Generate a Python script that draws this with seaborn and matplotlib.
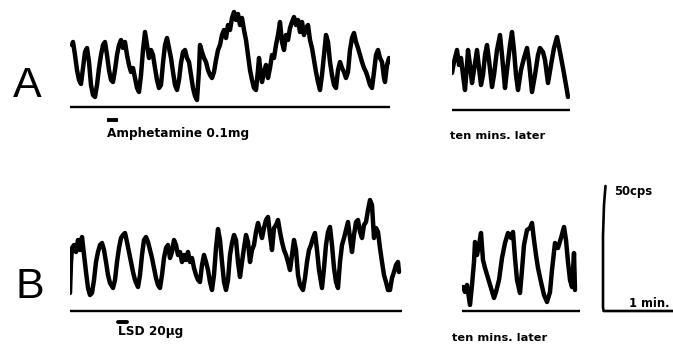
import matplotlib
matplotlib.use("Agg")
import matplotlib.pyplot as plt
import pandas as pd
import seaborn as sns

# ---------------- data (time in s, firing rate in cps) ----------------
a_main_t = [2, 3, 5, 7, 9, 11, 13, 15, 17, 19, 21, 23, 25, 27, 29, 31, 33, 35, 37, 39,
            41, 43, 45, 47, 49, 51, 53, 55, 57, 59, 61, 63, 65, 67, 69, 71, 73, 75, 77, 79,
            81, 83, 85, 87, 89, 91, 93, 95, 97, 99, 101, 103, 105, 107, 109, 111, 113, 115, 117, 119,
            121, 123, 125, 127, 129, 130, 132, 134, 136, 138, 140, 142, 144, 146, 148, 150, 152, 154, 156, 158,
            160, 162, 164, 166, 168, 170, 172, 174, 176, 178, 180, 182, 184, 186, 188, 189, 191, 192, 194, 196,
            198, 200, 202, 204, 206, 208, 210, 212, 214, 216, 218, 220, 222, 224, 226, 228, 230, 232, 234, 236,
            238, 240, 242, 244, 246, 248, 250, 252, 254, 256, 258, 260, 262, 264, 266, 268, 270, 272, 274, 276,
            278, 280, 282, 284, 286, 288, 290, 292, 294, 296, 298, 300, 302, 304, 306, 308, 310, 312, 314, 315,
            317, 319, 320]
a_main_rate = [24.8, 26, 20.8, 14.8, 10.8, 9.2, 15.6, 22, 23.6, 18, 8.8, 4.8, 4, 8.8, 15.6, 20.8, 24.8, 26, 20.8, 14.8,
               10.8, 10, 14.8, 20.8, 24.8, 26.8, 23.6, 26, 20.8, 16.8, 14, 15.6, 11.6, 7.6, 6, 12.8, 22.8, 30, 24.8, 19.6,
               22.8, 20.8, 15.6, 10.8, 7.6, 8.8, 17.6, 24.8, 27.6, 23.6, 19.6, 14, 8.8, 6.8, 10.8, 17.6, 22, 22.8, 19.6, 18,
               12.8, 7.6, 4.4, 2.8, 14.8, 24.8, 22, 19.6, 18, 14.8, 12.8, 11.6, 14, 18.8, 22.8, 24.8, 28.8, 30.8, 27.6, 32.8,
               30.8, 35.6, 38, 34.8, 37.2, 32.8, 35.6, 30.8, 26.8, 20.8, 14.8, 10.8, 7.6, 6.8, 14.8, 19.6, 12.8, 10, 14, 16.8,
               11.6, 15.6, 20.8, 19.6, 24.8, 28.8, 34, 26, 22.8, 28.8, 26.8, 31.6, 34, 36, 32.8, 34.8, 30, 34, 28.8, 31.6,
               32.8, 26.8, 23.6, 18.8, 14, 10, 6.8, 12.8, 20.8, 28.8, 26, 18, 12.8, 8.8, 7.6, 14.8, 18, 15.6, 14, 11.6,
               14, 22.8, 27.6, 29.6, 26, 23.6, 20.8, 18, 15.6, 14, 11.6, 8.8, 7.6, 14, 20.8, 22.8, 19.6, 18, 11.6, 10,
               16.8, 19.6, 18]

a_later_t = [0, 2, 5, 7, 9, 11, 13, 15, 16, 18, 20, 22, 25, 27, 29, 31, 33, 35, 37, 40,
             42, 45, 48, 50, 53, 55, 58, 60, 62, 64, 66, 69, 72, 75, 77, 80, 83, 86, 88, 91,
             93, 96, 99, 102, 105, 108, 111, 114, 116]
a_later_rate = [14.8, 19.2, 24, 18, 20.8, 14, 8, 18, 24, 18, 10.8, 16, 24, 16.8, 10, 14, 22, 26, 20, 9.2,
                14, 24, 30, 22, 8.8, 16, 26, 31.2, 24, 14, 8, 16, 20.8, 24.8, 19.2, 7.2, 14, 22, 24.8, 23.2,
                20, 10.8, 18, 24.8, 29.2, 23.2, 16.8, 10, 5.2]

b_main_t = [0, 1, 2, 4, 6, 8, 10, 12, 14, 16, 18, 20, 22, 24, 26, 28, 30, 32, 34, 36,
            38, 40, 43, 45, 47, 49, 51, 53, 55, 57, 59, 61, 63, 65, 68, 70, 72, 74, 76, 78,
            80, 82, 84, 86, 88, 90, 92, 94, 96, 98, 100, 102, 104, 106, 108, 110, 112, 114, 116, 118,
            120, 122, 124, 126, 128, 130, 132, 134, 136, 138, 140, 142, 144, 146, 148, 150, 152, 154, 156, 158,
            160, 162, 164, 166, 168, 170, 172, 174, 176, 178, 180, 182, 184, 186, 188, 190, 192, 194, 196, 198,
            200, 202, 204, 206, 208, 210, 212, 214, 216, 218, 220, 222, 224, 226, 228, 230, 233, 235, 237, 239,
            241, 243, 245, 247, 249, 252, 254, 256, 258, 260, 262, 264, 266, 268, 270, 272, 274, 276, 278, 280,
            282, 284, 286, 288, 290, 292, 294, 296, 298, 300, 302, 304, 306, 308, 310, 312, 314, 316, 318, 320,
            322, 324, 326, 328, 329]
b_main_rate = [7.2, 19.6, 25.2, 26.4, 23.6, 28.4, 24.4, 29.6, 22.4, 15.6, 9.2, 6.4, 7.2, 12.4, 19.6, 23.6, 26.4, 27.2, 24.4, 19.6,
               14.4, 11.2, 9.2, 12.4, 19.6, 25.2, 29.2, 30.4, 31.2, 27.6, 23.6, 19.6, 15.6, 12.4, 9.6, 14.4, 22.4, 28.4, 29.6, 27.6,
               24.4, 21.2, 17.2, 13.2, 10.4, 9.2, 14.4, 21.2, 25.2, 26.4, 21.2, 23.6, 28.4, 26.4, 22.4, 23.6, 19.6, 22.4, 20.4, 23.6,
               19.6, 21.2, 17.2, 14.4, 12.4, 11.6, 18.4, 22.4, 19.6, 16.4, 11.6, 8.4, 14.4, 25.2, 32.8, 28.4, 19.6, 11.6, 8.4, 12.4,
               22.4, 27.2, 30.4, 28.4, 19.6, 13.6, 19.6, 25.2, 30.4, 27.6, 19.6, 24.4, 26.4, 31.6, 35.2, 32.4, 29.2, 33.2, 36.4, 37.6,
               30.4, 24.4, 33.2, 34.4, 36.4, 31.6, 27.6, 24.4, 22.4, 19.6, 16.4, 22.4, 28.4, 24.4, 14.4, 10.4, 8.4, 13.2, 19.6, 24.4,
               26.4, 29.2, 31.2, 24.4, 16.4, 9.2, 17.2, 26.4, 31.6, 33.6, 26.4, 17.2, 11.6, 9.2, 19.6, 26.4, 29.2, 32.4, 35.6, 29.2,
               23.6, 30.4, 35.6, 36.4, 31.6, 29.2, 34.4, 35.6, 40.4, 44.4, 42.4, 29.2, 33.2, 31.6, 25.2, 19.6, 14.4, 11.6, 8.4, 8.4,
               13.2, 15.6, 18.4, 19.6, 15.6]

b_later_t = [1, 3, 5, 8, 10, 12, 13, 15, 17, 19, 21, 23, 26, 29, 32, 34, 37, 40, 43, 46,
             49, 51, 53, 55, 58, 60, 62, 65, 68, 70, 72, 74, 76, 79, 82, 85, 88, 90, 93, 96,
             99, 102, 104, 106, 108, 110, 112, 113]
b_later_rate = [9.6, 7.6, 10.4, 2.4, 10.4, 19.6, 27.6, 22.4, 26.4, 31.2, 20.4, 17.2, 13.2, 9.2, 5.2, 7.6, 12.4, 21.2, 27.2, 31.2,
                29.2, 31.6, 21.2, 12.4, 7.2, 16.4, 26.4, 32.4, 33.2, 35.2, 28.4, 22.4, 17.2, 11.6, 6.4, 3.6, 7.6, 16.4, 27.2, 25.2,
                29.2, 33.6, 28.4, 19.6, 12.4, 9.6, 23.2, 8.4]

a_drug_t = [37, 48]      # amphetamine injection marker (s)
b_drug_t = [48, 57]      # LSD injection marker (s)
scale_cps = 50
scale_s = 60

# ---------------- layout ----------------
W, H = 673, 348
sns.set_theme(style="white")
plt.rcParams['font.family'] = ['DejaVu Sans']
fig = plt.figure(figsize=(W / 100, H / 100), dpi=100)
fig.patch.set_facecolor("white")

PX_PER_S = 1.0
PX_PER_CPS = 2.5
Y_LO, Y_HI = -4, 52


def panel(x0_px, base_px, duration):
    left = x0_px / W
    width = duration * PX_PER_S / W
    bottom = (H - (base_px - Y_LO * PX_PER_CPS)) / H
    height = (Y_HI - Y_LO) * PX_PER_CPS / H
    ax = fig.add_axes([left, bottom, width, height])
    ax.set_xlim(0, duration)
    ax.set_ylim(Y_LO, Y_HI)
    ax.axis("off")
    return ax


def trace(ax, t, rate):
    df = pd.DataFrame({"t": t, "rate": rate})
    sns.lineplot(data=df, x="t", y="rate", ax=ax, color="black", lw=3.2,
                 sort=False, estimator=None, legend=False)
    ax.axhline(0, color="black", lw=1.7)
    ax.axis("off")


ax_a = panel(70, 107, 320)
trace(ax_a, a_main_t, a_main_rate)
ax_a.plot(a_drug_t, [-5.2, -5.2], color="black", lw=2.8, clip_on=False, solid_capstyle="butt")

ax_a2 = panel(452, 110, 118)
trace(ax_a2, a_later_t, a_later_rate)

ax_b = panel(70, 311, 332)
trace(ax_b, b_main_t, b_main_rate)
ax_b.plot(b_drug_t, [-4.4, -4.4], color="black", lw=2.8, clip_on=False, solid_capstyle="round")

ax_b2 = panel(462, 311, 118)
trace(ax_b2, b_later_t, b_later_rate)

# scale bar
ax_s = panel(603, 311, 70)
ax_s.plot([2.5, 1.0, 0, 0, 0.6, 70],
          [scale_cps, scale_cps * 0.85, scale_cps * 0.6, 1.5, 0, 0],
          color="black", lw=1.9, clip_on=False)

txt = dict(color="black", fontweight="bold", fontsize=8.7, va="baseline")
fig.text(107 / W, 1 - 137 / H, "Amphetamine 0.1mg", **txt)
fig.text(450 / W, 1 - 139 / H, "ten mins. later", **dict(txt, fontsize=8.2))
fig.text(118 / W, 1 - 335 / H, "LSD 20\u03bcg", **txt)
fig.text(452 / W, 1 - 341 / H, "ten mins. later", **dict(txt, fontsize=8.2))
fig.text(614 / W, 1 - 195 / H, "50cps", **dict(txt, fontsize=8.4))
fig.text(629 / W, 1 - 307 / H, "1 min.", **dict(txt, fontsize=8.4))

fig.text(27.5 / W, 1 - 97 / H, "A", fontsize=31, ha="center", va="baseline",
         family="Liberation Sans", color="black")
fig.text(29.5 / W, 1 - 298 / H, "B", fontsize=31, ha="center", va="baseline",
         family="Liberation Sans", color="black")

fig.savefig("out.png", dpi=100, facecolor="white")
